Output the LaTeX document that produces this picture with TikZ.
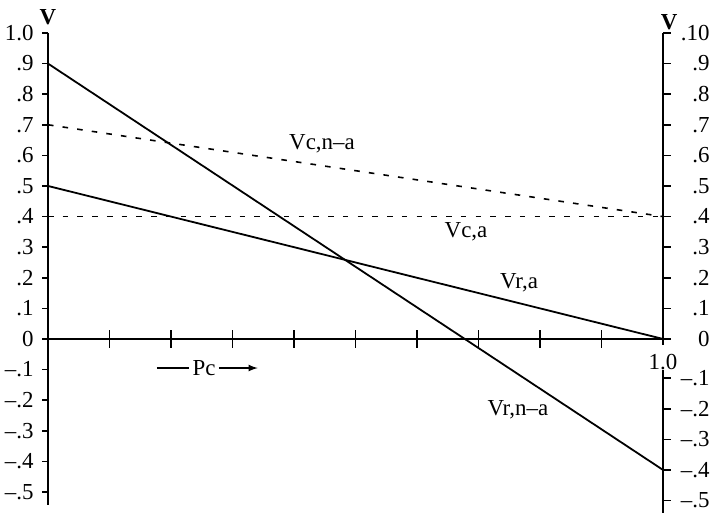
\documentclass[tikz,border=0pt]{standalone}
\usepackage{fontspec}
\setmainfont{Liberation Serif}
\usetikzlibrary{arrows,positioning}

\tikzstyle{axis} = [draw, line width=0.8pt]
\tikzstyle{curve} = [draw, line width=0.9pt]
\tikzstyle{dcurve} = [draw, line width=0.8pt, dash pattern=on 2.8pt off 4.6pt]
\tikzstyle{lbl} = [font=\fontsize{11.5}{13}\selectfont, inner sep=0pt]

\begin{document}
\begin{tikzpicture}[x=10.848cm, y=5.397cm]
    \useasboundingbox (-0.078,-0.588) rectangle (1.0894,1.1078);

    % Draw axis
    \draw [axis] (0,1.0) -- (0,-0.542);
    \draw [axis] (0,0) -- (1.013,0);
    \draw [axis] (1,1.0) -- (1,-0.02);
    \draw [axis] (1,-0.101) -- (1,-0.569);

    % ticks
    \foreach \v in {-5,...,10}
        \draw [axis] (0,\v/10) -- ++(-3pt,0pt);
    \foreach \v in {0,...,10}
        \draw [axis] (1,\v/10) -- ++(4pt,0pt);
    \foreach \v in {1,...,5}
        \draw [axis] (1,-\v/10-0.028) -- ++(4pt,0pt);
    \foreach \u in {1,...,9}
        \draw [axis] (\u/10,0) ++(0pt,-4.5pt) -- ++(0pt,9pt);

    % left scale
    \foreach \v/\t in {1.0/1.0, 0.9/.9, 0.8/.8, 0.7/.7, 0.6/.6, 0.5/.5, 0.4/.4, 0.3/.3, 0.2/.2, 0.1/.1, 0/0,
                       -0.1/--.1, -0.2/--.2, -0.3/--.3, -0.4/--.4, -0.5/--.5}
        \node [lbl, anchor=east] at (-0.0228,\v) {\t};

    % right scale
    \foreach \v/\t in {1.0/.10, 0.9/.9, 0.8/.8, 0.7/.7, 0.6/.6, 0.5/.5, 0.4/.4, 0.3/.3, 0.2/.2, 0.1/.1, 0/0,
                       -0.128/--.1, -0.228/--.2, -0.328/--.3, -0.428/--.4, -0.528/--.5}
        \node [lbl, anchor=east] at (1.0764,\v) {\t};

    \node [lbl, font=\fontsize{11.5}{13}\selectfont\bfseries] (vleft) at (0,1.052) {V};
    \node [lbl, font=\fontsize{11.5}{13}\selectfont\bfseries] (vright) at (1.0098,1.036) {V};
    \node [lbl] (pend) at (1,-0.075) {1.0};

    % lines
    \draw [dcurve] (0,0.7) -- (1,0.4);
    \draw [dcurve] (0,0.4) -- (1,0.4);
    \draw [curve] (0,0.5) -- (1,0);
    \draw [curve] (0,0.9) -- (1,-0.428);

    % names
    \node [lbl] (vcna) at (0.4455,0.637) {Vc,n--a};
    \node [lbl] (vca) at (0.6797,0.3497) {Vc,a};
    \node [lbl] (vra) at (0.7659,0.183) {Vr,a};
    \node [lbl] (vrna) at (0.764,-0.232) {Vr,n--a};

    % probability
    \node [lbl] (pc) at (0.2537,-0.095) {Pc};
    \coordinate (pcstart) at (0.177,-0.095);
    \coordinate (pcend) at (0.341,-0.095);
    \draw [line width=0.6pt] (pcstart) -- ([xshift=-1.5pt]pc.west);
    \draw [line width=0.6pt, -latex] ([xshift=1.5pt]pc.east) -- (pcend);
\end{tikzpicture}
\end{document}
